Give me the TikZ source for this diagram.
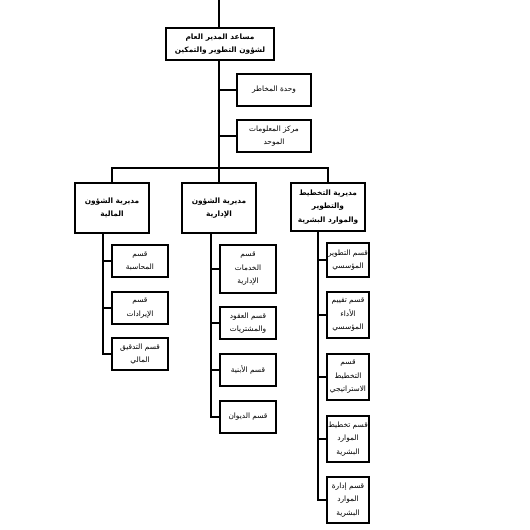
\documentclass[tikz,border=0pt]{standalone}
\usepackage{fontspec}
\newfontfamily\arabicfont[Script=Arabic]{DejaVu Sans}
\TeXXeTstate=1
\newcommand{\arline}[1]{\beginR #1\endR}
\usetikzlibrary{positioning}

\begin{document}
\begin{tikzpicture}[
    x=1pt, y=-1pt,
    line width=2pt,
    box/.style={rectangle, draw, fill=white, align=center, inner sep=1pt, font=\arabicfont\fontsize{7.4}{13.5}\selectfont},
    head/.style={box, font=\arabicfont\bfseries\fontsize{7.4}{13.5}\selectfont},
    unit/.style={box, minimum width=74pt, minimum height=32pt},
    dir/.style={head, minimum width=74pt, minimum height=50pt},
    sec/.style={box, minimum width=56pt, minimum height=32pt},
    secn/.style={box, minimum width=42pt, minimum height=46pt}
]
    \useasboundingbox (0,0) rectangle (530,530);

    % Assistant general manager
    \node[head, minimum width=108pt, minimum height=32pt] (agm) at (220,44) {\arline{مساعد المدير العام}\\\arline{لشؤون التطوير والتمكين}};
    \coordinate (topend) at (219,0);
    \coordinate (bar) at (219,168);

    % Units
    \node[unit] (risk) at (274,90) {\arline{وحدة المخاطر}};
    \node[unit] (info) at (274,136) {\arline{مركز المعلومات}\\\arline{الموحد}};

    % Directorates
    \node[dir] (fin) at (112,208) {\arline{مديرية الشؤون}\\\arline{المالية}};
    \node[dir] (adm) at (219,208) {\arline{مديرية الشؤون}\\\arline{الإدارية}};
    \node[dir, minimum height=48pt] (plan) at (328,207) {\arline{مديرية التخطيط}\\\arline{والتطوير}\\\arline{والموارد البشرية}};

    % Financial sections
    \node[sec] (fin1) at (140,261) {\arline{قسم}\\\arline{المحاسبة}};
    \node[sec] (fin2) at (140,308) {\arline{قسم}\\\arline{الإيرادات}};
    \node[sec] (fin3) at (140,354) {\arline{قسم التدقيق}\\\arline{المالي}};

    % Administrative sections
    \node[sec, minimum height=48pt] (adm1) at (248,269) {\arline{قسم}\\\arline{الخدمات}\\\arline{الإدارية}};
    \node[sec] (adm2) at (248,323) {\arline{قسم العقود}\\\arline{والمشتريات}};
    \node[sec] (adm3) at (248,370) {\arline{قسم الأبنية}};
    \node[sec] (adm4) at (248,417) {\arline{قسم الديوان}};

    % Planning sections
    \node[secn, minimum height=34pt] (plan1) at (348,260) {\arline{قسم التطوير}\\\arline{المؤسسي}};
    \node[secn] (plan2) at (348,315) {\arline{قسم تقييم}\\\arline{الأداء}\\\arline{المؤسسي}};
    \node[secn] (plan3) at (348,377) {\arline{قسم}\\\arline{التخطيط}\\\arline{الاستراتيجي}};
    \node[secn] (plan4) at (348,439) {\arline{قسم تخطيط}\\\arline{الموارد}\\\arline{البشرية}};
    \node[secn] (plan5) at (348,500) {\arline{قسم إدارة}\\\arline{الموارد}\\\arline{البشرية}};

    \coordinate[xshift=-9pt] (finroot) at (fin.south);
    \coordinate[xshift=-8pt] (admroot) at (adm.south);
    \coordinate[xshift=-10pt] (planroot) at (plan.south);

    % Connections
    \draw (topend) -- (topend |- agm.north);
    \draw (agm.south -| bar) -- (bar);
    \draw (bar |- risk) -- (risk.west);
    \draw (bar |- info) -- (info.west);
    \draw (fin.north) |- (bar) -| (plan.north);
    \draw (bar) -- (adm.north);
    \draw (finroot) |- (fin3.west);
    \draw (admroot) |- (adm4.west);
    \draw (planroot) |- (plan5.west);
    \foreach \s in {fin1,fin2}
        \draw (finroot |- \s) -- (\s.west);
    \foreach \s in {adm1,adm2,adm3}
        \draw (admroot |- \s) -- (\s.west);
    \foreach \s in {plan1,plan2,plan3,plan4}
        \draw (planroot |- \s) -- (\s.west);
\end{tikzpicture}
\end{document}
